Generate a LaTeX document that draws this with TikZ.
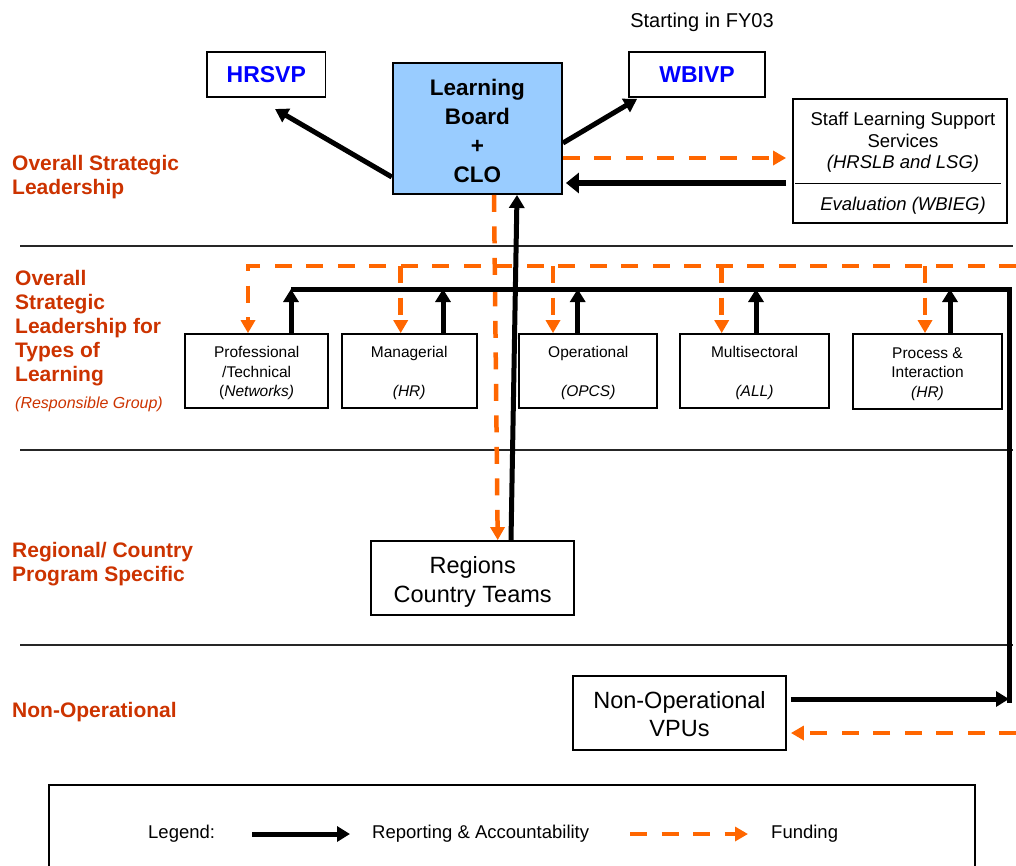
\documentclass[tikz,border=0pt]{standalone}
\usepackage{fontspec}
\setmainfont{Liberation Sans}
\usetikzlibrary{arrows.meta}
\definecolor{fund}{HTML}{FF6600}
\definecolor{lab}{HTML}{CC3300}
\definecolor{boardblue}{HTML}{99CCFF}
\definecolor{vpblue}{HTML}{0000FF}
\begin{document}
\begin{tikzpicture}[x=1pt,y=-1pt,
  box/.style={draw=black, line width=1.8pt, fill=white, inner sep=0pt, align=center},
  smallbox/.style={box, minimum height=73.7pt},
  smalltext/.style={inner sep=0pt, align=center, font=\fontsize{15.5}{19.5}\selectfont},
  bigbox/.style={box, minimum height=74pt},
  bigtext/.style={inner sep=0pt, align=center, font=\fontsize{23.5}{28.5}\selectfont},
  vpbox/.style={box, minimum height=45pt, text=vpblue, font=\fontsize{23}{27}\selectfont\bfseries},
  rep/.style={draw=black, line width=5pt, -{Triangle[length=13pt,width=15pt]}},
  repline/.style={draw=black, line width=5pt},
  fundline/.style={draw=fund, line width=4.5pt, dash pattern=on 17pt off 14.5pt, -{Triangle[length=13pt,width=14pt]}},
  sep/.style={draw=black!85, line width=1.2pt},
  lbl/.style={text=lab, font=\fontsize{21}{24}\selectfont\bfseries, anchor=north west, align=left, inner sep=0pt},
  plain/.style={inner sep=0pt, align=center}
]
\useasboundingbox (0,0) rectangle (1016,865);

% separators
\draw[sep] (20,246) -- (1013,246);
\draw[sep] (20,450) -- (1013,450);
\draw[sep] (20,645) -- (1013,645);

% left labels
\node[lbl] (l1) at (12,155) {Overall Strategic\\Leadership};
\node[lbl] (l2) at (15,270) {Overall\\Strategic\\Leadership for\\Types of\\Learning};
\node[plain, anchor=north west, text=lab, font=\fontsize{16}{19}\selectfont\itshape] (l2b) at (15,397) {(Responsible Group)};
\node[lbl] (l3) at (12,542) {Regional/ Country\\Program Specific};
\node[lbl] (l4) at (12,702) {Non-Operational};

% top nodes
\node[plain, font=\fontsize{20}{24}\selectfont] (fy) at (702,22) {Starting in FY03};
\node[vpbox, minimum width=118.5pt] (hrsvp) at (266.3,74.1) {HRSVP};
\node[vpbox, minimum width=136pt] (wbivp) at (697,74.2) {WBIVP};
\node[box, fill=boardblue, minimum width=169.3pt, minimum height=131.3pt] (board) at (477.4,128.4) {};
\node[plain, font=\fontsize{22.5}{29}\selectfont\bfseries] (boardtext) at (477.4,131) {Learning\\Board\\+\\CLO};
\node[box, minimum width=214.6pt, minimum height=124pt] (staff) at (900,160.7) {};
\node[plain, font=\fontsize{18.5}{21.5}\selectfont] (stafftext) at (903,142.5) {Staff Learning Support\\Services\\\textit{(HRSLB and LSG)}};
\node[plain, font=\fontsize{18.5}{21.5}\selectfont\itshape] (evaltext) at (903,206) {Evaluation (WBIEG)};
\draw[line width=1.5pt] (795,183.3) -- (1000.7,183.3);

% second row
\node[smallbox, minimum width=143.3pt] (prof) at (256.7,370.9) {};
\node[smalltext] (proft) at (256.7,373) {Professional\\/Technical\\(\textit{Networks)}};
\node[smallbox, minimum width=135pt] (manag) at (409.2,370.9) {};
\node[smalltext] (managt) at (409.2,373) {Managerial\\[19.5pt]\textit{(HR)}};
\node[smallbox, minimum width=138pt] (oper) at (588.3,370.9) {};
\node[smalltext] (opert) at (588.3,373) {Operational\\[19.5pt]\textit{(OPCS)}};
\node[smallbox, minimum width=149pt] (multi) at (754.5,370.9) {};
\node[smalltext] (multit) at (754.5,373) {Multisectoral\\[19.5pt]\textit{(ALL)}};
\node[smallbox, minimum width=149.6pt, minimum height=75pt] (proc) at (927.5,371.5) {};
\node[smalltext] (proct) at (927.5,374) {Process \&\\Interaction\\\textit{(HR)}};

% lower nodes
\node[bigbox, minimum width=203.3pt] (regions) at (472.7,578) {};
\node[bigtext] (regionst) at (472.7,582) {Regions\\Country Teams};
\node[bigbox, minimum width=212.4pt] (nonop) at (679.5,713) {};
\node[bigtext] (nonopt) at (679.5,714) {Non-Operational\\VPUs};

% top connectors
\draw[rep] ([yshift=-48.6pt]board.west) -- ([xshift=8.7pt,yshift=-11.5pt]hrsvp.south);
\draw[rep] ([yshift=-14.6pt]board.east) -- ([xshift=9pt,yshift=-1.3pt]wbivp.south west);
\draw[fundline] ([yshift=-29.6pt]board.east) -- ([xshift=-5.7pt,yshift=2.7pt]staff.west);
\draw[draw=black, line width=6.5pt, -{Triangle[length=13pt,width=20pt]}] ([xshift=-5.7pt,yshift=-22.3pt]staff.west) -- ([xshift=3pt,yshift=-54.6pt]board.east);

% funding distribution
\coordinate (fundR) at (1016,266);
\coordinate (pdrop) at ([xshift=-8.7pt]prof.north);
\coordinate (mdrop) at ([xshift=-8.5pt]manag.north);
\coordinate (odrop) at ([xshift=-35.3pt]oper.north);
\coordinate (sdrop) at ([xshift=-32.8pt]multi.north);
\coordinate (rdrop) at ([xshift=-2.5pt]proc.north);
\draw[fundline] (fundR) -| (pdrop);
\draw[fundline] (mdrop |- fundR) -- (mdrop);
\draw[fundline] (odrop |- fundR) -- (odrop);
\draw[fundline] (sdrop |- fundR) -- (sdrop);
\draw[fundline] (rdrop |- fundR) -- (rdrop);

% vertical links between board and regions
\draw[fundline] ([xshift=16.6pt]board.south) -- ([xshift=25pt]regions.north);
\draw[rep] ([xshift=38.3pt]regions.north) -- ([xshift=39.6pt]board.south);

% reporting bus
\coordinate (busR) at (1009,289);
\coordinate (busB) at (1009,703);
\coordinate (pup) at ([xshift=34.3pt]prof.north);
\coordinate (mup) at ([xshift=33.8pt]manag.north);
\coordinate (oup) at ([xshift=-10.6pt]oper.north);
\coordinate (sup2) at ([xshift=1.5pt]multi.north);
\coordinate (rup) at ([xshift=22.5pt]proc.north);
\draw[repline] (pup |- busR) -- (busR) -- (busB);
\draw[rep] (pup) -- (pup |- busR);
\draw[rep] (mup) -- (mup |- busR);
\draw[rep] (oup) -- (oup |- busR);
\draw[rep] (sup2) -- (sup2 |- busR);
\draw[rep] (rup) -- (rup |- busR);

% non-operational links
\coordinate (nopStart) at ([xshift=4.3pt,yshift=14pt]nonop.east);
\draw[rep] (nopStart) -- (nopStart -| busR);
\coordinate (fundR2) at (1016,733);
\draw[fundline] (fundR2) -- ([xshift=4.3pt,yshift=-20pt]nonop.east);

% legend
\draw[line width=1.5pt] (49,870) -- (49,785) -- (975,785) -- (975,870);
\node[plain, anchor=west, font=\fontsize{18.5}{22}\selectfont] (legtxt) at (148,834) {Legend:};
\node[plain, anchor=west, font=\fontsize{18.5}{22}\selectfont] (reptxt) at (372,834) {Reporting \& Accountability};
\node[plain, anchor=west, font=\fontsize{18.5}{22}\selectfont] (fundtxt) at (771,834) {Funding};
\coordinate (legA1) at (252,834);
\coordinate (legA2) at (350,834);
\coordinate (legF1) at (630,834);
\coordinate (legF2) at (748,834);
\draw[rep] (legA1) -- (legA2);
\draw[fundline] (legF1) -- (legF2);
\end{tikzpicture}
\end{document}
